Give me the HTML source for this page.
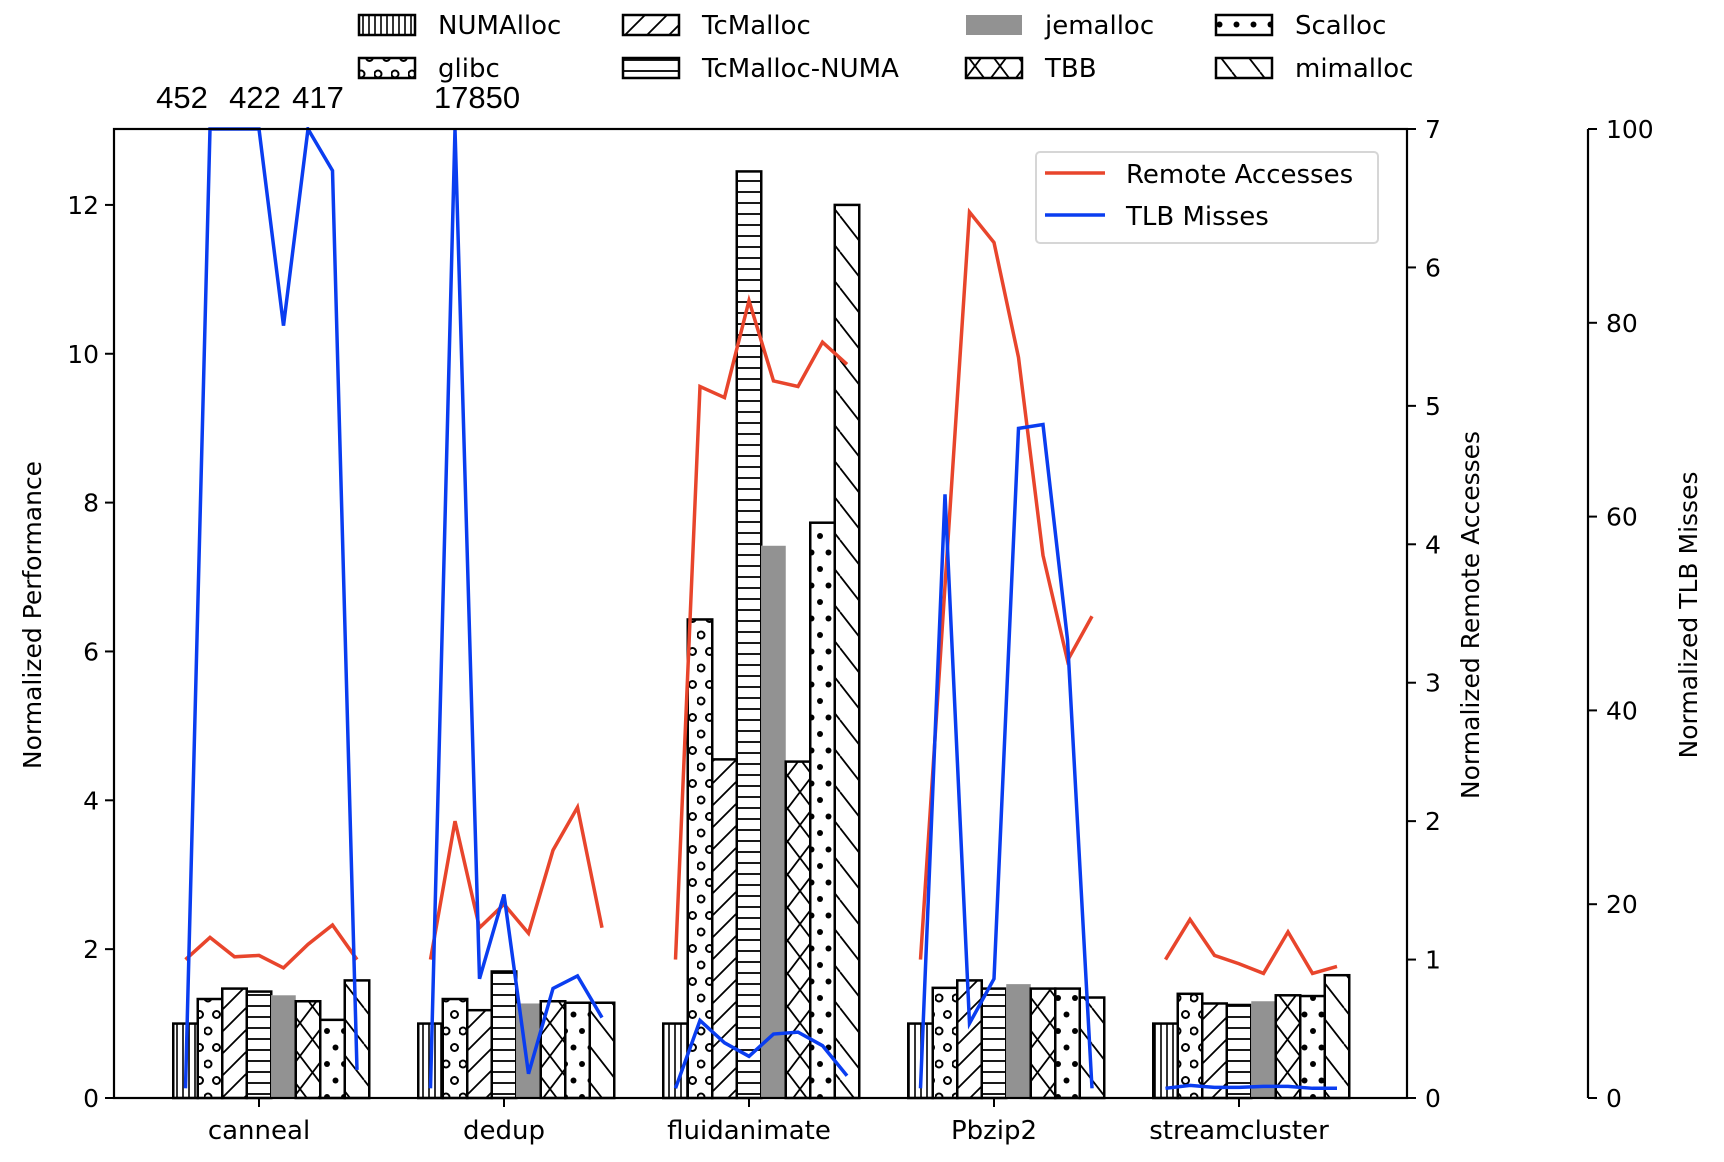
<!DOCTYPE html>
<html><head><meta charset="utf-8"><style>
html,body{margin:0;padding:0;background:#fff;}
svg{display:block;font-family:"DejaVu Sans","Liberation Sans",sans-serif;}
</style></head><body>
<svg id="chart" width="1724" height="1162" viewBox="0 0 1724 1162" xmlns="http://www.w3.org/2000/svg">
<defs>
<pattern id="p0" patternUnits="userSpaceOnUse" width="6" height="10"><line x1="3" y1="0" x2="3" y2="10" stroke="#000" stroke-width="1.6"/></pattern>
<pattern id="p1" patternUnits="userSpaceOnUse" width="17" height="33"><circle cx="4" cy="8" r="3.5" fill="none" stroke="#000" stroke-width="2"/><circle cx="12.5" cy="24.5" r="3.5" fill="none" stroke="#000" stroke-width="2"/></pattern>
<pattern id="p2" patternUnits="userSpaceOnUse" width="22" height="22"><path d="M-2,24 L24,-2 M-13,13 L13,-13 M9,35 L35,9" stroke="#000" stroke-width="1.8"/></pattern>
<pattern id="p3" patternUnits="userSpaceOnUse" width="10" height="11"><line x1="0" y1="5" x2="10" y2="5" stroke="#000" stroke-width="1.8"/></pattern>
<pattern id="p5" patternUnits="userSpaceOnUse" width="25" height="33"><path d="M0,0 L25,33 M25,0 L0,33" stroke="#000" stroke-width="1.8"/></pattern>
<pattern id="p6" patternUnits="userSpaceOnUse" width="17" height="33"><circle cx="4" cy="8" r="3" fill="#000"/><circle cx="12.5" cy="24.5" r="3" fill="#000"/></pattern>
<pattern id="p7" patternUnits="userSpaceOnUse" width="28" height="36"><path d="M0,0 L28,36 M-28,0 L0,36 M28,0 L56,36" stroke="#000" stroke-width="1.8"/></pattern>
<clipPath id="plotclip"><rect x="114" y="127" width="1293" height="971"/></clipPath>
</defs>
<g id="bars"></g>
<g id="lines" clip-path="url(#plotclip)"></g>
<g id="axes"></g>
<g font-family="Liberation Sans, sans-serif" font-size="31" text-anchor="middle">
<text x="182" y="108">452</text>
<text x="255" y="108">422</text>
<text x="318" y="108">417</text>
<text x="477" y="108">17850</text>
</g>
<g id="legend"></g>
<g>
<rect x="1036" y="152" width="342" height="91" rx="4" fill="#fff" stroke="#d6d6d6" stroke-width="2"/>
<line x1="1045" y1="173" x2="1105" y2="173" stroke="#e8452c" stroke-width="3.5"/>
<text x="1126" y="183" font-size="26">Remote Accesses</text>
<line x1="1045" y1="215" x2="1105" y2="215" stroke="#0a3df0" stroke-width="3.5"/>
<text x="1126" y="225" font-size="26">TLB Misses</text>
</g>
</svg>
<script>
const categories = ["canneal","dedup","fluidanimate","Pbzip2","streamcluster"];
const allocators = ["NUMAlloc","glibc","TcMalloc","TcMalloc-NUMA","jemalloc","TBB","Scalloc","mimalloc"];
const perfCanneal = [1.0,1.33,1.47,1.43,1.38,1.30,1.05,1.58];
const perfDedup = [1.0,1.33,1.18,1.70,1.27,1.30,1.28,1.28];
const perfFluid = [1.0,6.43,4.55,12.45,7.42,4.52,7.73,12.0];
const perfPbzip2 = [1.0,1.48,1.58,1.47,1.53,1.47,1.47,1.35];
const perfStream = [1.0,1.40,1.27,1.25,1.30,1.38,1.37,1.65];
const remoteCanneal = [1.0,1.16,1.02,1.03,0.94,1.11,1.25,1.0];
const remoteDedup = [1.0,2.0,1.23,1.40,1.19,1.79,2.10,1.23];
const remoteFluid = [1.0,5.14,5.06,5.76,5.18,5.14,5.46,5.3];
const remotePbzip2 = [1.0,3.7,6.40,6.18,5.35,3.92,3.16,3.48];
const remoteStream = [1.0,1.29,1.03,0.97,0.9,1.2,0.9,0.95];
const tlbCanneal = [1,452,422,150,79.7,417,95.7,2.9];
const tlbDedup = [1,17850,12.3,21,2.5,11.3,12.6,8.3];
const tlbFluid = [1,8,5.7,4.3,6.6,6.8,5.4,2.3];
const tlbPbzip2 = [1,62.3,7.7,12.3,69.1,69.5,47.3,1];
const tlbStream = [1,1.3,1.1,1.1,1.2,1.2,1,1];
const perfTicks = [0,2,4,6,8,10,12];
const remoteTicks = [0,1,2,3,4,5,6,7];
const tlbTicks = [0,20,40,60,80,100];

const perf=[perfCanneal,perfDedup,perfFluid,perfPbzip2,perfStream];
const remote=[remoteCanneal,remoteDedup,remoteFluid,remotePbzip2,remoteStream];
const tlb=[tlbCanneal,tlbDedup,tlbFluid,tlbPbzip2,tlbStream];
const NS="http://www.w3.org/2000/svg";
const X0=114,X1=1407,Y0=1098,Y1=129,GAP=245,BW=24.5;
function xGroup(g){return 259+g*GAP;}
function xBar(g,i){return xGroup(g)+(i-3)*BW;}
function yPerf(v){return Y0-(Y0-Y1)*v/13.02;}
function yRemote(v){return Y0-(Y0-Y1)*v/7;}
function yTlb(v){return Y0-(Y0-Y1)*Math.min(v,100)/100;}
const fills=["url(#p0)","url(#p1)","url(#p2)","url(#p3)","#929292","url(#p5)","url(#p6)","url(#p7)"];
function mk(tag,attrs,parent){const e=document.createElementNS(NS,tag);for(const k in attrs)e.setAttribute(k,attrs[k]);parent.appendChild(e);return e;}
const bars=document.getElementById('bars');
perf.forEach((vals,g)=>{vals.forEach((v,i)=>{
  const y=yPerf(v);
  const r=mk('rect',{x:xBar(g,i)-BW/2,y:y,width:BW,height:Y0-y,fill:"#fff"},bars);
  
  
  const h=mk('rect',{x:xBar(g,i)-BW/2,y:y,width:BW,height:Y0-y,fill:fills[i],stroke:i==4?"none":"#000","stroke-width":2.5},bars);
  
  
});});
const lines=document.getElementById('lines');
function pl(vals,g,fy,color,name){
  const pts=vals.map((v,i)=>xBar(g,i)+','+fy(v)).join(' ');
  const p=mk('polyline',{points:pts,fill:"none",stroke:color,"stroke-width":3.5,"stroke-linejoin":"miter"},lines);
  
  
}
remote.forEach((v,g)=>pl(v,g,yRemote,"#e8452c",'remote-line-'+categories[g].toLowerCase()));
tlb.forEach((v,g)=>pl(v,g,yTlb,"#0a3df0",'tlb-line-'+categories[g].toLowerCase()));
const ax=document.getElementById('axes');
let e;
e=mk('rect',{x:X0,y:Y1,width:X1-X0,height:Y0-Y1,fill:"none",stroke:"#000","stroke-width":2.2},ax);


e=mk('line',{x1:1588,y1:Y1,x2:1588,y2:Y0,stroke:"#000","stroke-width":2.2},ax);


perfTicks.forEach(t=>{const y=yPerf(t);
  mk('line',{x1:X0-9,y1:y,x2:X0,y2:y,stroke:"#000","stroke-width":2},ax);
  e=mk('text',{x:X0-15,y:y+9,"text-anchor":"end","font-size":25},ax);e.textContent=t;
  
  
});
remoteTicks.forEach(t=>{const y=yRemote(t);
  mk('line',{x1:X1,y1:y,x2:X1+9,y2:y,stroke:"#000","stroke-width":2},ax);
  e=mk('text',{x:X1+18,y:y+9,"font-size":25},ax);e.textContent=t;
  
  
});
tlbTicks.forEach(t=>{const y=yTlb(t);
  mk('line',{x1:1588,y1:y,x2:1597,y2:y,stroke:"#000","stroke-width":2},ax);
  e=mk('text',{x:1606,y:y+9,"font-size":25},ax);e.textContent=t;
  
  
});
categories.forEach((c,g)=>{const x=xGroup(g);
  mk('line',{x1:x,y1:Y0,x2:x,y2:Y0+9,stroke:"#000","stroke-width":2},ax);
  e=mk('text',{x:x,y:1139,"text-anchor":"middle","font-size":26},ax);e.textContent=c;
  
  
});
function vtitle(x,txt,name){e=mk('text',{x:x,y:615,"text-anchor":"middle","font-size":25,transform:`rotate(-90 ${x} 615)`},ax);e.textContent=txt;
  
  }
vtitle(41,"Normalized Performance",'y-axis-title');
vtitle(1479,"Normalized Remote Accesses",'remote-axis-title');
vtitle(1697,"Normalized TLB Misses",'tlb-axis-title');
const lg=document.getElementById('legend');
const colX=[359,623,966,1216],rowY=[25,68];
allocators.forEach((a,i)=>{const c=Math.floor(i/2),r=i%2;const x=colX[c],y=rowY[r];
  mk('rect',{x:x,y:y-10,width:56,height:20,fill:"#fff"},lg);
  e=mk('rect',{x:x,y:y-10,width:56,height:20,fill:fills[i],stroke:i==4?"none":"#000","stroke-width":2.5},lg);
  
  
  e=mk('text',{x:x+79,y:y+9,"font-size":26},lg);e.textContent=a;
  
  
});
</script>
</body></html>
